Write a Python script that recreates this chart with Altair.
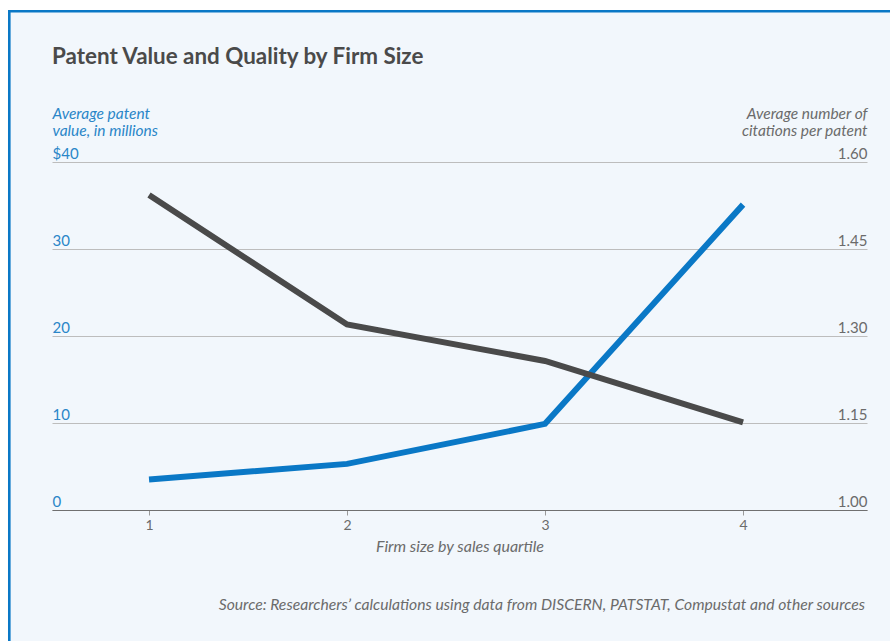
import altair as alt
import pandas as pd

# Firm size quartiles and the two measures plotted against them
quartile = [1, 2, 3, 4]
patent_value_musd = [3.5, 5.3, 9.9, 35.1]
citations_per_patent = [1.543, 1.32, 1.257, 1.151]

left_ticks = [0, 10, 20, 30, 40]
right_ticks = [1.00, 1.15, 1.30, 1.45, 1.60]

headline = "Patent Value and Quality by Firm Size"
left_title = ["Average patent", "value, in millions"]
right_title = ["Average number of", "citations per patent"]
x_title = "Firm size by sales quartile"
source_note = "Source: Researchers\u2019 calculations using data from DISCERN, PATSTAT, Compustat and other sources"

FONT = "Lato"
BLUE = "#0a78c6"
LABEL_BLUE = "#2a86c8"
DARK = "#4a4a4a"
GREY_TEXT = "#6b6b6b"
PANEL = "#f2f7fc"

W, H = 815, 348
PAD_L, PAD_T, PAD_R, PAD_B = 52, 162, 23, 131

df = pd.DataFrame({
    "quartile": quartile,
    "value": patent_value_musd,
    "citations": citations_per_patent,
})
one = pd.DataFrame({"k": [0]})

x_enc = alt.X(
    "quartile:Q",
    scale=alt.Scale(domain=[0.51, 4.626], nice=False, zero=False),
    axis=alt.Axis(
        values=quartile, format="d", title=x_title, grid=False,
        domainColor="#707070", domainWidth=1.2,
        tickColor="#9a9a9a", tickSize=5, tickWidth=1,
        labelColor=GREY_TEXT, labelFontSize=14, labelPadding=3, labelFont=FONT,
        labelFlush=False,
        titleFont=FONT, titleFontSize=16, titleFontStyle="italic",
        titleFontWeight="normal", titleColor=GREY_TEXT, titlePadding=6,
        zindex=1,
    ),
)

# white margin outside the framed panel, plus the blue frame itself
margin_left = alt.Chart(one).mark_rect(fill="white").encode(
    x=alt.value(-PAD_L), x2=alt.value(-44),
    y=alt.value(-PAD_T), y2=alt.value(H + PAD_B),
)
margin_top = alt.Chart(one).mark_rect(fill="white").encode(
    x=alt.value(-PAD_L), x2=alt.value(W + PAD_R),
    y=alt.value(-PAD_T), y2=alt.value(-152),
)
frame = alt.Chart(one).mark_rect(
    fill=None, fillOpacity=0, stroke=BLUE, strokeWidth=2.6
).encode(
    x=alt.value(-42.7), x2=alt.value(W + 200),
    y=alt.value(-150.7), y2=alt.value(H + 300),
)

value_line = alt.Chart(df).mark_line(
    color=BLUE, strokeWidth=6, strokeCap="butt"
).encode(
    x=x_enc,
    y=alt.Y(
        "value:Q",
        scale=alt.Scale(domain=[0, 40], nice=False),
        axis=alt.Axis(
            orient="left", values=left_ticks,
            labelExpr="datum.value == 40 ? '$40' : datum.label",
            domain=False, ticks=False, tickSize=0,
            grid=True, gridColor="#bdbdbd", gridWidth=1,
            labelAlign="left", labelBaseline="alphabetic", labelPadding=0,
            labelOffset=-4, labelFlush=False,
            labelColor=LABEL_BLUE, labelFontSize=15, labelFont=FONT,
            title=left_title, titleAngle=0, titleX=0, titleY=-44,
            titleAlign="left", titleBaseline="alphabetic",
            titleFont=FONT, titleFontSize=15.5, titleFontStyle="italic",
            titleFontWeight="normal", titleColor=LABEL_BLUE, titleLineHeight=17,
        ),
    ),
)

citation_line = alt.Chart(df).mark_line(
    color=DARK, strokeWidth=6, strokeCap="butt"
).encode(
    x=x_enc,
    y=alt.Y(
        "citations:Q",
        scale=alt.Scale(domain=[1.0, 1.6], nice=False, zero=False),
        axis=alt.Axis(
            orient="right", values=right_ticks, format=".2f",
            domain=False, ticks=False, tickSize=0, grid=False,
            labelAlign="right", labelBaseline="alphabetic", labelPadding=0,
            labelOffset=-4, labelFlush=False,
            labelColor=GREY_TEXT, labelFontSize=15, labelFont=FONT,
            title=right_title, titleAngle=0, titleX=0, titleY=-44,
            titleAlign="right", titleBaseline="alphabetic",
            titleFont=FONT, titleFontSize=15.5, titleFontStyle="italic",
            titleFontWeight="normal", titleColor=GREY_TEXT, titleLineHeight=17,
        ),
    ),
)

headline_text = alt.Chart(one).mark_text(
    text=headline, align="left", baseline="alphabetic",
    font=FONT, fontSize=22.4, fontWeight="bold", color=DARK,
).encode(x=alt.value(0), y=alt.value(-98))

source_text = alt.Chart(one).mark_text(
    text=source_note, align="right", baseline="alphabetic",
    font=FONT, fontSize=15.7, fontStyle="italic", color=GREY_TEXT,
).encode(x=alt.value(W - 2), y=alt.value(448))

chart = alt.layer(
    margin_left, margin_top, frame,
    value_line, citation_line, headline_text, source_text
).resolve_scale(
    y="independent"
).properties(
    width=W, height=H,
    autosize=alt.AutoSizeParams(type="none"),
    padding={"left": PAD_L, "top": PAD_T, "right": PAD_R, "bottom": PAD_B},
    background=PANEL,
).configure_view(stroke=None)

chart.save("out.html", embed_options={"renderer": "svg", "actions": False})
